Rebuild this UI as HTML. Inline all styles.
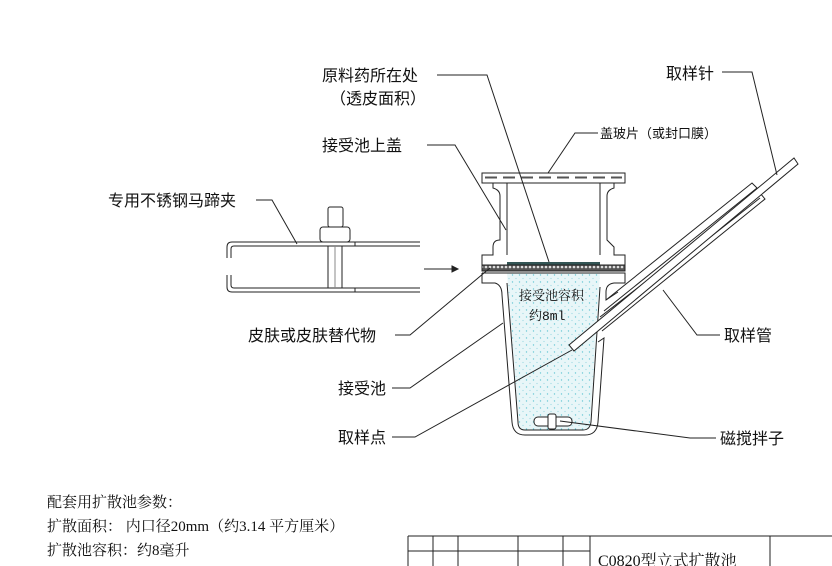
<!DOCTYPE html>
<html><head><meta charset="utf-8"><style>
html,body{margin:0;padding:0;background:#fff;width:832px;height:566px;overflow:hidden}
svg{display:block}
text{font-family:"Liberation Serif","Noto Serif CJK SC",serif;fill:#111}
.s text{font-family:"Liberation Sans","Noto Sans CJK SC",sans-serif}
</style></head><body>
<svg width="832" height="566" viewBox="0 0 832 566" xmlns="http://www.w3.org/2000/svg">
<defs>
<pattern id="dots" width="7" height="7" patternUnits="userSpaceOnUse">
<rect width="7" height="7" fill="#e8f6f8"/>
<circle cx="1.5" cy="2" r="0.7" fill="#6cc9d6"/>
<circle cx="5" cy="5.5" r="0.6" fill="#9ad9e2"/>
</pattern>
<pattern id="hatch" width="4" height="6" patternUnits="userSpaceOnUse">
<rect width="4" height="6" fill="#555"/>
<circle cx="2" cy="3" r="1.3" fill="#ddd"/>
</pattern>
</defs>
<g fill="none" stroke="#222" stroke-width="1">
<path d="M420,242 H232 Q227,242 227,247 V258 M231,258 V249 Q231,246 234,246 H420"/>
<path d="M420,292 H232 Q227,292 227,287 V275 M231,275 V285 Q231,288 234,288 H420"/>
<line x1="355" y1="242" x2="355" y2="246"/><line x1="355" y1="288" x2="355" y2="292"/>
<rect x="328" y="246" width="14" height="42" fill="#fff"/>
<line x1="335" y1="246" x2="335" y2="288" stroke="#888"/>
<rect x="320" y="227" width="30" height="15" rx="3" fill="#fff"/>
<rect x="328" y="207" width="15" height="20" rx="2" fill="#fff"/>
<line x1="424" y1="269" x2="455" y2="269"/>
<path d="M452,266 L458,269 L452,272 Z" fill="#222"/>

<path d="M507,273 H600 L590,425 Q588,430 583,430 H525 Q520,430 519,425 Z" fill="url(#dots)" stroke="none"/>
<rect x="482" y="173" width="143" height="10" fill="#fff"/>
<line x1="485" y1="177.5" x2="622" y2="177.5" stroke-dasharray="12,6" stroke="#555" stroke-width="2"/>
<path d="M507,183 V255 M600,183 V255"/>
<path d="M493,183 V188 Q500,190 500,196 V240 Q493,240 493,247 V255 H482 V265 H625 V255 H614 V247 Q607,240 607,240 V196 Q607,190 614,188 V183"/>
<rect x="507" y="262" width="93" height="3" fill="#355" stroke="none"/>
<rect x="482" y="265" width="143" height="6" fill="url(#hatch)"/>
<path d="M482,273 H625 V283 H614 Q606,284 606,292 V300 L618,292 M482,273 V283 H495 Q502,285 502,295 L512,422 Q513,435 525,435 H585 Q597,435 598,422 L604,338 L598,342 M507,283 L518,422 Q518,430 525,430 H583 Q590,430 591,422 L600,287"/>
<rect x="534" y="417" width="38" height="9" rx="4" fill="#fff"/>
<rect x="548" y="414" width="8" height="15" rx="2" fill="#fff"/>
<path d="M606,300 L752,183 L757,188 L604,311"/>
<path d="M600,317 L760,193 L765,199 L602,331"/>
<path d="M596,327 L760,198"/>
<polygon points="569,345 794,158 798,164 574,351" fill="#fff"/>

<polyline points="437,75 487,75 549,262"/>
<polyline points="427,145 455,145 506,230"/>
<polyline points="598,133 575,133 548,173"/>
<polyline points="722,72 752,72 777,175"/>
<polyline points="256,200 272,200 297,244"/>
<polyline points="395,335 410,335 490,268"/>
<polyline points="392,388 410,388 503,323"/>
<polyline points="392,437 415,437 572,350"/>
<polyline points="720,335 697,335 663,290"/>
<polyline points="716,438 690,438 560,421"/>

<path d="M408,536 H832 M408,551 H590 M408,536 V566 M433,536 V566 M458,536 V566 M518,536 V566 M563,536 V566 M590,536 V566 M770,536 V566"/>
</g>
<g font-size="16" class="s">
<text x="322" y="81">原料药所在处</text>
<text x="330" y="104">（透皮面积）</text>
<text x="322" y="151">接受池上盖</text>
<text x="666" y="79">取样针</text>
<text x="108" y="206">专用不锈钢马蹄夹</text>
<text x="248" y="341">皮肤或皮肤替代物</text>
<text x="338" y="394">接受池</text>
<text x="338" y="443">取样点</text>
<text x="724" y="341">取样管</text>
<text x="720" y="444">磁搅拌子</text>
<text x="600" y="138" font-size="13">盖玻片（或封口膜）</text>
</g>
<g font-size="15">
<text x="47" y="507">配套用扩散池参数：</text>
<text x="47" y="531">扩散面积：  内口径20mm（约3.14 平方厘米）</text>
<text x="47" y="555">扩散池容积：约8毫升</text>
<text x="598" y="566" font-size="16">C0820型立式扩散池</text>
</g>
<text x="519" y="300" font-size="13">接受池容积</text>
<text x="529" y="320" font-size="13" style="font-family:'Liberation Mono','Noto Serif CJK SC',monospace">约8ml</text>
</svg>
</body></html>
